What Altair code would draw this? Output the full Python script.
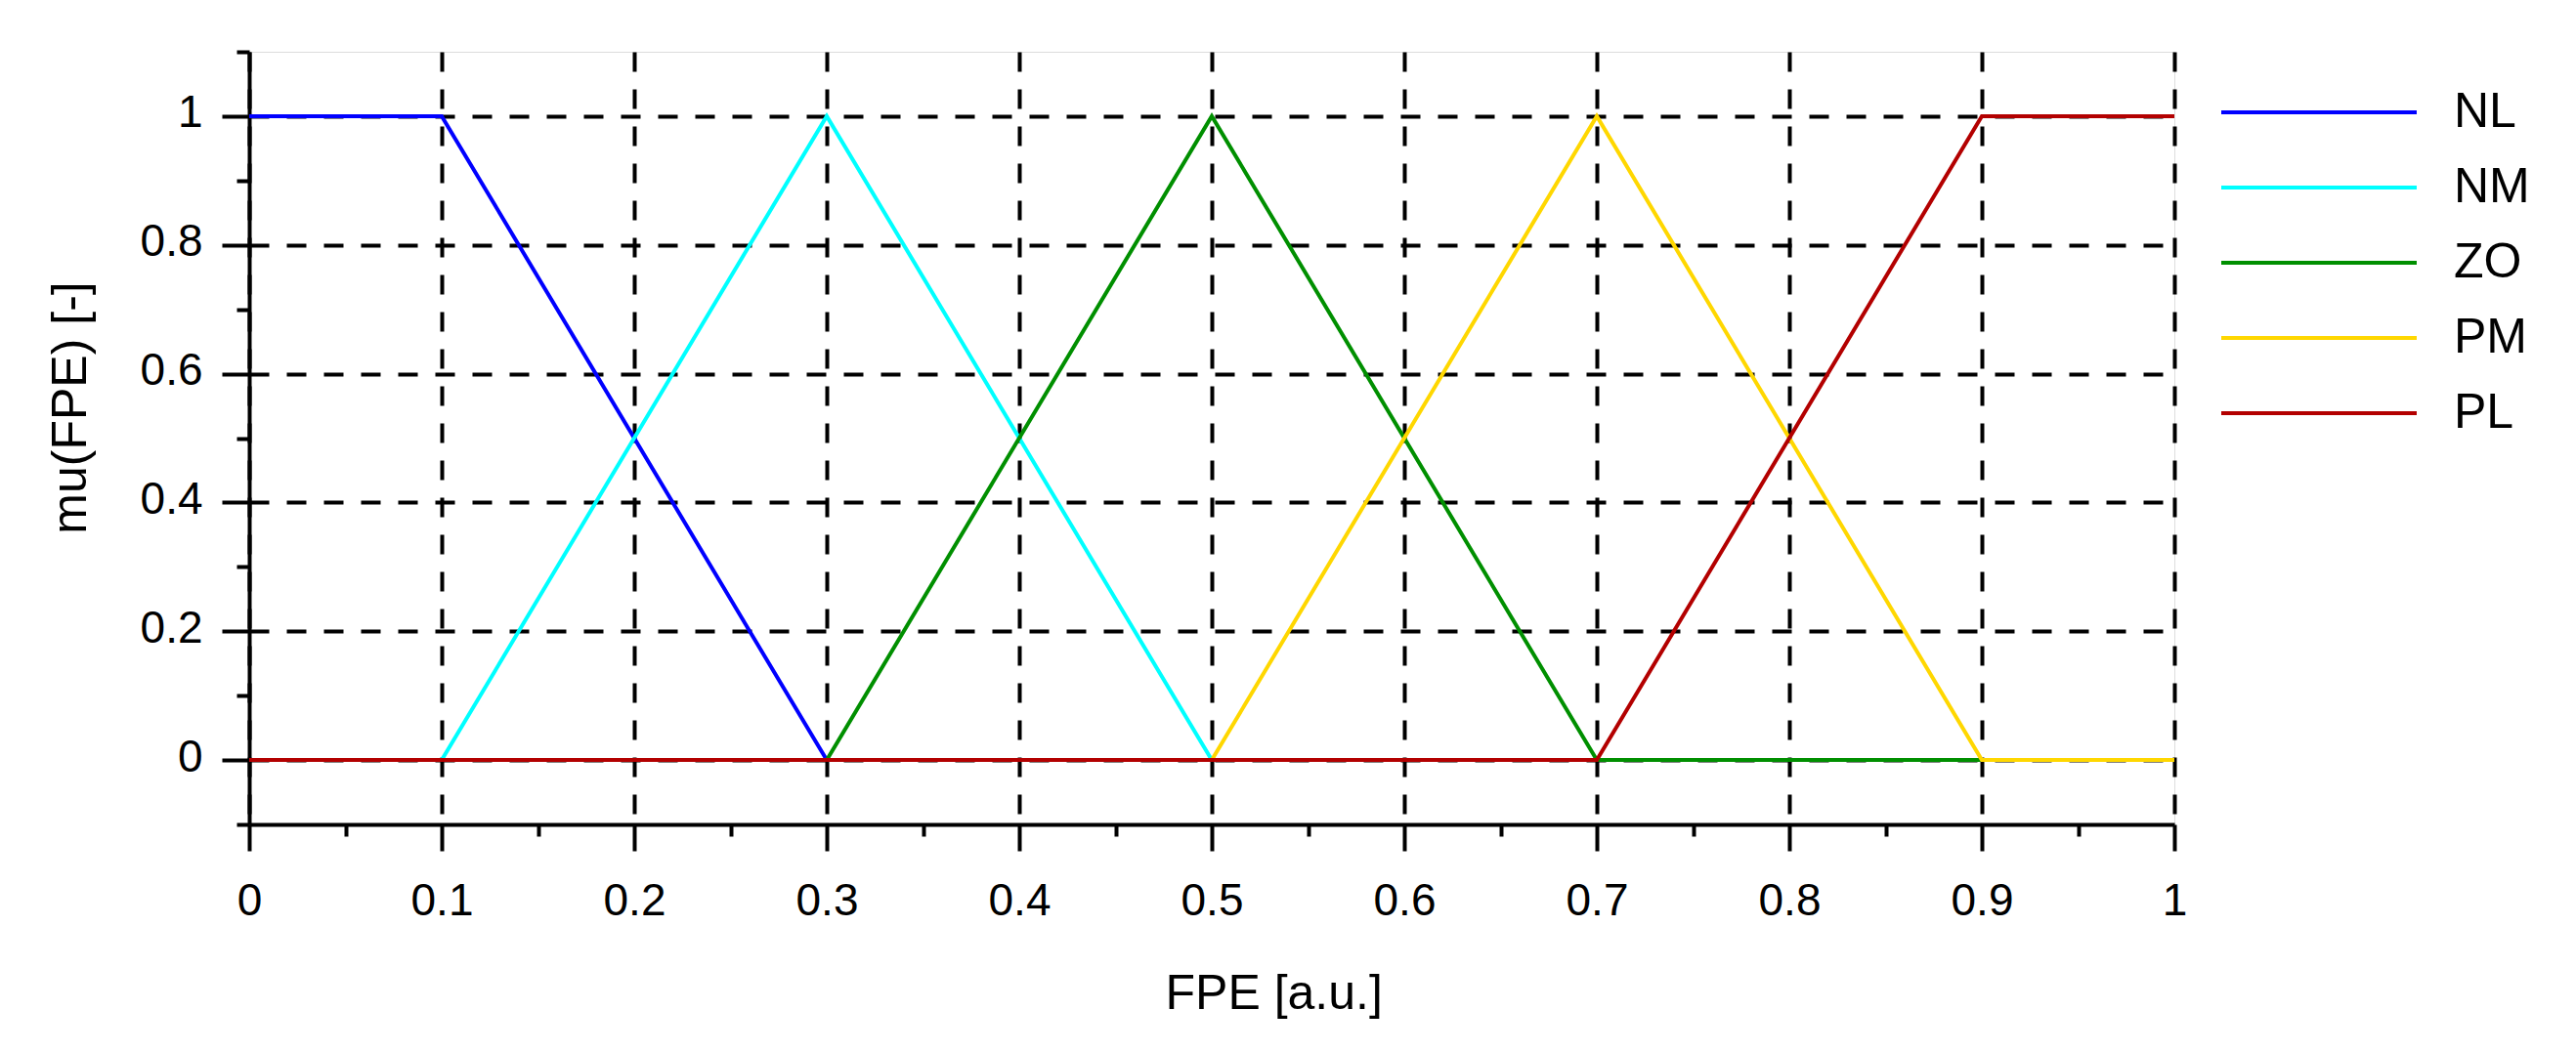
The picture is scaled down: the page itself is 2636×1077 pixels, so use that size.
import altair as alt
import pandas as pd

# ---- data ----
series_names = ["NL", "NM", "ZO", "PM", "PL"]
series_colors = ["#0000ff", "#00ffff", "#008f00", "#ffd700", "#b30000"]

nl_x = [0.0, 0.1, 0.3, 1.0]
nl_y = [1.0, 1.0, 0.0, 0.0]
nm_x = [0.0, 0.1, 0.3, 0.5, 1.0]
nm_y = [0.0, 0.0, 1.0, 0.0, 0.0]
zo_x = [0.0, 0.3, 0.5, 0.7, 1.0]
zo_y = [0.0, 0.0, 1.0, 0.0, 0.0]
pm_x = [0.0, 0.5, 0.7, 0.9, 1.0]
pm_y = [0.0, 0.0, 1.0, 0.0, 0.0]
pl_x = [0.0, 0.7, 0.9, 1.0]
pl_y = [0.0, 0.0, 1.0, 1.0]

x_tick_values = [0.0, 0.05, 0.1, 0.15, 0.2, 0.25, 0.3, 0.35, 0.4, 0.45, 0.5,
                 0.55, 0.6, 0.65, 0.7, 0.75, 0.8, 0.85, 0.9, 0.95, 1.0]
y_tick_values = [-0.1, 0.0, 0.1, 0.2, 0.3, 0.4, 0.5, 0.6, 0.7, 0.8, 0.9, 1.0, 1.1]

x_title = "FPE [a.u.]"
y_title = "mu(FPE) [-]"

xs = [nl_x, nm_x, zo_x, pm_x, pl_x]
ys = [nl_y, nm_y, zo_y, pm_y, pl_y]
rows = []
for name, sx, sy in zip(series_names, xs, ys):
    for a, b in zip(sx, sy):
        rows.append({"series": name, "x": a, "y": b})
df = pd.DataFrame(rows)

FONT = "Liberation Sans"
x_minor = "round(datum.value*20) % 2 != 0"
y_minor = "round(datum.value*10) % 2 != 0"

x_axis = alt.Axis(
    values=x_tick_values, format="~g",
    labelExpr=f"{x_minor} ? '' : datum.label",
    labelOverlap=False, labelFlush=False,
    labelFontSize=46, labelColor="black", labelFont=FONT, labelPadding=29,
    tickColor="black", tickWidth=4,
    tickSize={"condition": {"test": x_minor, "value": 12}, "value": 27},
    domainColor="black", domainWidth=4,
    grid=True, gridColor="black", gridWidth=4, gridDash=[20, 18],
    gridOpacity={"condition": {"test": x_minor, "value": 0}, "value": 1},
    title=x_title, titleFontSize=50, titleFontWeight="normal", titleFont=FONT,
    titleColor="black", titleX=937, titleY=188, titleAlign="left",
    titleBaseline="alphabetic", titleAngle=0,
)
y_axis = alt.Axis(
    values=y_tick_values, format="~g",
    labelExpr=f"{y_minor} ? '' : datum.label",
    labelOverlap=False, labelFlush=False,
    labelFontSize=46, labelColor="black", labelFont=FONT, labelPadding=20,
    labelOffset=-3,
    tickColor="black", tickWidth=4,
    tickSize={"condition": {"test": y_minor, "value": 13}, "value": 28},
    domainColor="black", domainWidth=4,
    grid=True, gridColor="black", gridWidth=4, gridDash=[20, 18],
    gridOpacity={"condition": {"test": y_minor, "value": 0}, "value": 1},
    title=y_title, titleFontSize=50, titleFontWeight="normal", titleFont=FONT,
    titleColor="black", titleX=-168, titleY=364, titleAlign="center",
    titleBaseline="alphabetic", titleAngle=270,
)
# long horizontal legend line drawn as a custom path (scaled by sqrt(size)/2)
legend = alt.Legend(
    orient="none", legendX=2093, legendY=37, title=None, padding=0,
    symbolType="M-5,0H5", symbolSize=1600, symbolStrokeWidth=4,
    symbolFillColor="transparent",
    labelFontSize=50, labelFont=FONT, labelColor="black", labelOffset=113,
    rowPadding=27,
)

color = alt.Color("series:N",
                  scale=alt.Scale(domain=series_names, range=series_colors),
                  legend=legend)

layers = []
for name in series_names:
    layers.append(
        alt.Chart(df).transform_filter(alt.datum.series == name)
        .mark_line(strokeWidth=4, clip=True)
        .encode(
            x=alt.X("x:Q", scale=alt.Scale(domain=[0, 1], nice=False, zero=False), axis=x_axis),
            y=alt.Y("y:Q", scale=alt.Scale(domain=[-0.1, 1.1], nice=False, zero=False), axis=y_axis),
            color=color,
        )
    )

chart = alt.layer(*layers).properties(
    width=1970, height=791,
    autosize=alt.AutoSizeParams(type="none"),
    padding={"left": 247, "top": 45, "right": 390, "bottom": 200},
).configure_view(stroke="black", strokeWidth=4).configure(font=FONT)

chart.save("out.html", embed_options={"renderer": "svg", "actions": False})
